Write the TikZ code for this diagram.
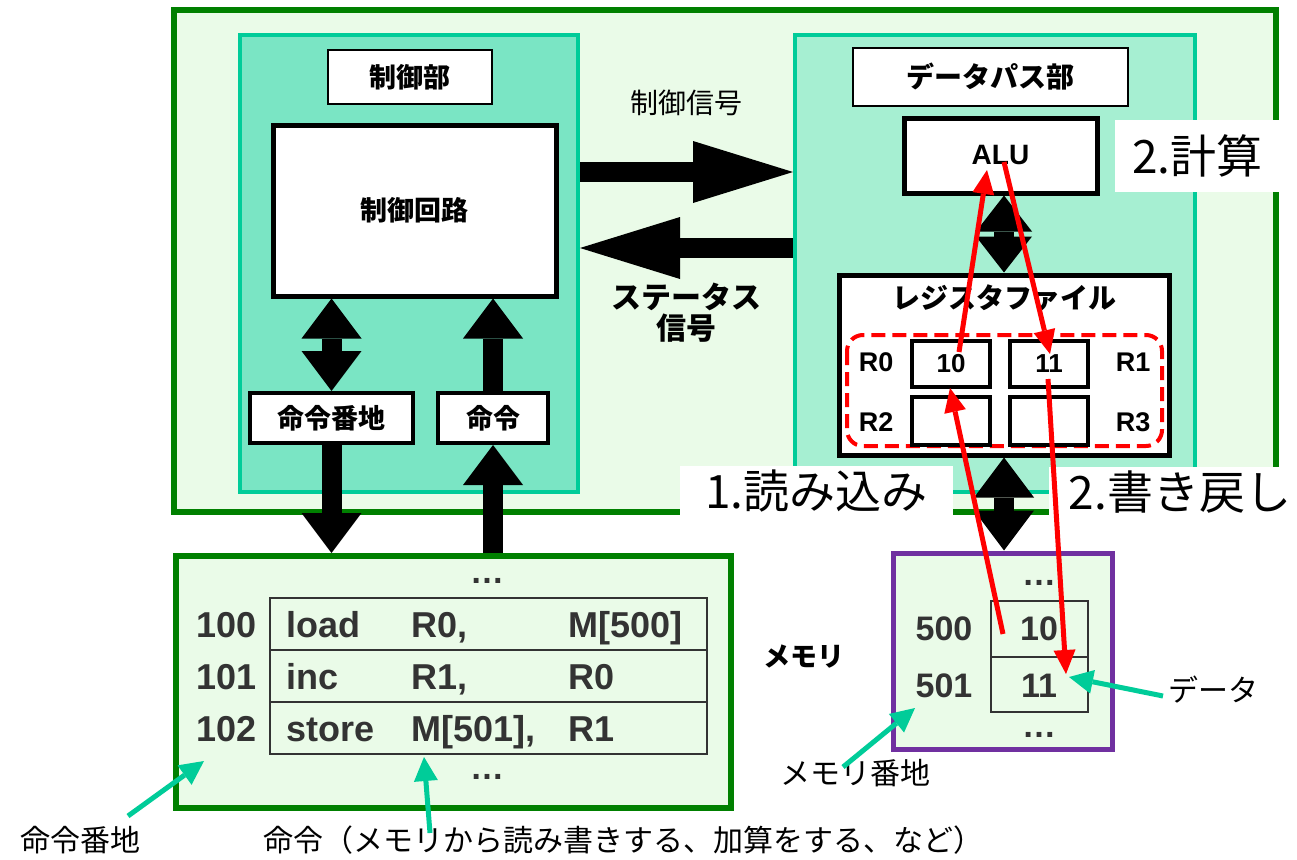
\documentclass[tikz,border=0pt]{standalone}
\usepackage{fontspec}
\setmainfont{Liberation Sans}
\newfontfamily\jp{Noto Sans CJK JP}
\newcommand\jpb{\jp\bfseries}
\usetikzlibrary{arrows.meta}
\definecolor{cpubg}{RGB}{234,251,232}
\definecolor{cpuline}{RGB}{0,128,0}
\definecolor{partline}{RGB}{0,204,153}
\definecolor{ctlbg}{RGB}{122,229,196}
\definecolor{dpbg}{RGB}{166,239,210}
\definecolor{memline}{RGB}{112,48,160}
\definecolor{txtgray}{RGB}{51,51,51}
\tikzset{
  box/.style={draw,fill=white,line width=5pt,inner sep=0pt},
  tag/.style={draw,fill=white,line width=1.5pt,inner sep=0pt},
  part/.style={draw=partline,line width=4pt,inner sep=0pt},
  cell/.style={draw=txtgray,line width=1.5pt},
  bus/.style={line width=20pt,-{Triangle[length=40pt,width=60pt,line width=0pt]}},
  busboth/.style={line width=20pt,{Triangle[length=40pt,width=60pt,line width=0pt]}-{Triangle[length=40pt,width=60pt,line width=0pt]}},
  shortboth/.style={line width=20pt,{Triangle[length=36pt,width=56pt,line width=0pt]}-{Triangle[length=36pt,width=56pt,line width=0pt]}},
  sig/.style={line width=20pt,-{Triangle[length=100pt,width=62pt,line width=0pt]}},
  flow/.style={red,line width=5pt,-{Triangle[length=24pt,width=22pt,line width=0pt]}},
  note/.style={partline,line width=5pt,-{Triangle[length=24pt,width=24pt,line width=0pt]}},
  steplabel/.style={fill=white,inner sep=0pt,font=\jp\fontsize{46}{48}\selectfont},
  prg/.style={anchor=base west,text=txtgray,font=\bfseries\fontsize{36}{38}\selectfont},
  memtxt/.style={anchor=base,text=txtgray,font=\bfseries\fontsize{34}{36}\selectfont},
  regname/.style={font=\bfseries\fontsize{27}{29}\selectfont},
  remark/.style={font=\jp\fontsize{30}{32}\selectfont}
}
\begin{document}
\begin{tikzpicture}[x=1pt,y=-1pt]
\useasboundingbox(0,0)rectangle(1297,859);
% CPU
\draw[cpuline,fill=cpubg,line width=6pt](174,10)rectangle(1276,512);
% Controle
\node[part,fill=ctlbg,minimum width=338pt,minimum height=457pt](ctl)at(409,263.5){};
\node[tag,minimum width=164pt,minimum height=54pt,font=\jpb\fontsize{27}{29}\selectfont](ctlname)at(410,77){制御部};
\node[box,minimum width=283pt,minimum height=171pt,font=\jpb\fontsize{27}{29}\selectfont](circ)at(414.5,210.5){制御回路};
\node[box,line width=4pt,minimum width=163pt,minimum height=50pt,font=\jpb\fontsize{27}{29}\selectfont](iaddr)at(331.5,418){命令番地};
\node[box,line width=4pt,minimum width=110pt,minimum height=50pt,font=\jpb\fontsize{27}{29}\selectfont](inst)at(493,418){命令};
% Chemin de donnees
\node[part,fill=dpbg,minimum width=400pt,minimum height=457pt](dp)at(995,263.5){};
\node[tag,minimum width=275pt,minimum height=58pt,font=\jpb\fontsize{28}{30}\selectfont](dpname)at(990.5,77){データパス部};
\node[box,minimum width=193pt,minimum height=75pt,font=\bfseries\fontsize{28}{30}\selectfont](alu)at(1000.5,155.5){ALU};
\node[box,minimum width=330pt,minimum height=180pt](rf)at(1004,365){};
\node[font=\jpb\fontsize{28}{30}\selectfont](rfname)at(1004,298){レジスタファイル};
\draw[red,dash pattern=on 14pt off 7pt,line width=4pt,rounded corners=16pt](847,335)rectangle(1162,446);
\node[box,line width=4pt,minimum width=78pt,minimum height=46pt,font=\bfseries\fontsize{26}{28}\selectfont](r0)at(951,364){10};
\node[box,line width=4pt,minimum width=78pt,minimum height=46pt,font=\bfseries\fontsize{26}{28}\selectfont](r1)at(1049,364){11};
\node[box,line width=4pt,minimum width=78pt,minimum height=48pt](r2)at(951,421){};
\node[box,line width=4pt,minimum width=78pt,minimum height=48pt](r3)at(1049,421){};
\node[regname]at(876,362){R0};
\node[regname]at(1133,362){R1};
\node[regname]at(876,422){R2};
\node[regname]at(1133,422){R3};
% Signaux
\node[font=\jp\fontsize{28}{30}\selectfont](csig)at(686,103){制御信号};
\node[align=center,font=\jpb\fontsize{30}{31}\selectfont](ssig)at(686,313){ステータス\\信号};
% Memoire programme
\node[draw=cpuline,fill=cpubg,line width=6pt,minimum width=555pt,minimum height=252pt](prog)at(453.5,682){};
\draw[cell](270,598)rectangle(707,754);
\draw[cell](270,650)--(707,650);
\draw[cell](270,702)--(707,702);
\node[memtxt]at(487,583){…};
\node[memtxt]at(487,779){…};
\node[prg]at(193,637){100};
\node[prg]at(283,637){load};
\node[prg]at(408,637){R0,};
\node[prg]at(565,637){M[500]};
\node[prg]at(193,689){101};
\node[prg]at(283,689){inc};
\node[prg]at(408,689){R1,};
\node[prg]at(565,689){R0};
\node[prg]at(193,741){102};
\node[prg]at(283,741){store};
\node[prg]at(408,741){M[501],};
\node[prg]at(565,741){R1};
% Memoire donnees
\node[draw=memline,fill=cpubg,line width=5pt,minimum width=219pt,minimum height=196pt](mem)at(1002.5,651){};
\draw[cell](991,601)rectangle(1088,712);
\draw[cell](991,657)--(1088,657);
\node[memtxt]at(1039,585){…};
\node[memtxt]at(1039,737){…};
\node[memtxt]at(944,640){500};
\node[memtxt]at(944,697){501};
\node[memtxt]at(1039,640){10};
\node[memtxt]at(1039,697){11};
\node[font=\jpb\fontsize{27}{29}\selectfont](memname)at(804,657){メモリ};
% Bus
\draw[busboth](iaddr.north)--(iaddr.north|-circ.south);
\draw[bus](inst.north)--(inst.north|-circ.south);
\draw[bus](iaddr.south)--(iaddr.south|-prog.north);
\draw[bus](inst.south|-prog.north)--(inst.south);
\draw[sig](ctl.east|-0,172)--(dp.west|-0,172);
\draw[sig](dp.west|-0,248)--(ctl.east|-0,248);
\draw[shortboth](rf.north)--(rf.north|-alu.south);
\draw[busboth](rf.south)--(rf.south|-mem.north);
% Etapes
\node[steplabel,minimum width=165pt,minimum height=72pt](calc)at(1197.5,156){2.計算};
\node[steplabel,minimum width=273pt,minimum height=50pt](read)at(816.5,491){1.読み込み};
\node[steplabel,minimum width=262pt,minimum height=51pt](back)at(1180,492.5){2.書き戻し};
\coordinate(r0out)at(959,352);
\coordinate(aluin)at(987,170);
\coordinate(aluout)at(1004,162);
\coordinate(r1in)at(1050,354);
\coordinate(m500)at(1003,634);
\coordinate(r0in)at(950,388);
\coordinate(r1out)at(1048,379);
\coordinate(m501)at(1066,674);
\draw[flow](r0out)--(aluin);
\draw[flow](aluout)--(r1in);
\draw[flow](m500)--(r0in);
\draw[flow](r1out)--(m501);
% Annotations
\node[remark](datalbl)at(1213,690){データ};
\node[remark](maddrlbl)at(855,773){メモリ番地};
\node[remark](iaddrlbl)at(80,840){命令番地};
\node[remark,anchor=west](instlbl)at(260,840){命令（メモリから読み書きする、加算をする、など）};
\coordinate(datatail)at(1163,696);
\coordinate(datatip)at(1069,677);
\coordinate(maddrtail)at(843,767);
\coordinate(maddrtip)at(915,708);
\coordinate(iaddrtail)at(128,816);
\coordinate(iaddrtip)at(204,761);
\coordinate(insttail)at(430,833);
\coordinate(insttip)at(424,757);
\draw[note](datatail)--(datatip);
\draw[note](maddrtail)--(maddrtip);
\draw[note](iaddrtail)--(iaddrtip);
\draw[note](insttail)--(insttip);
\end{tikzpicture}
\end{document}
